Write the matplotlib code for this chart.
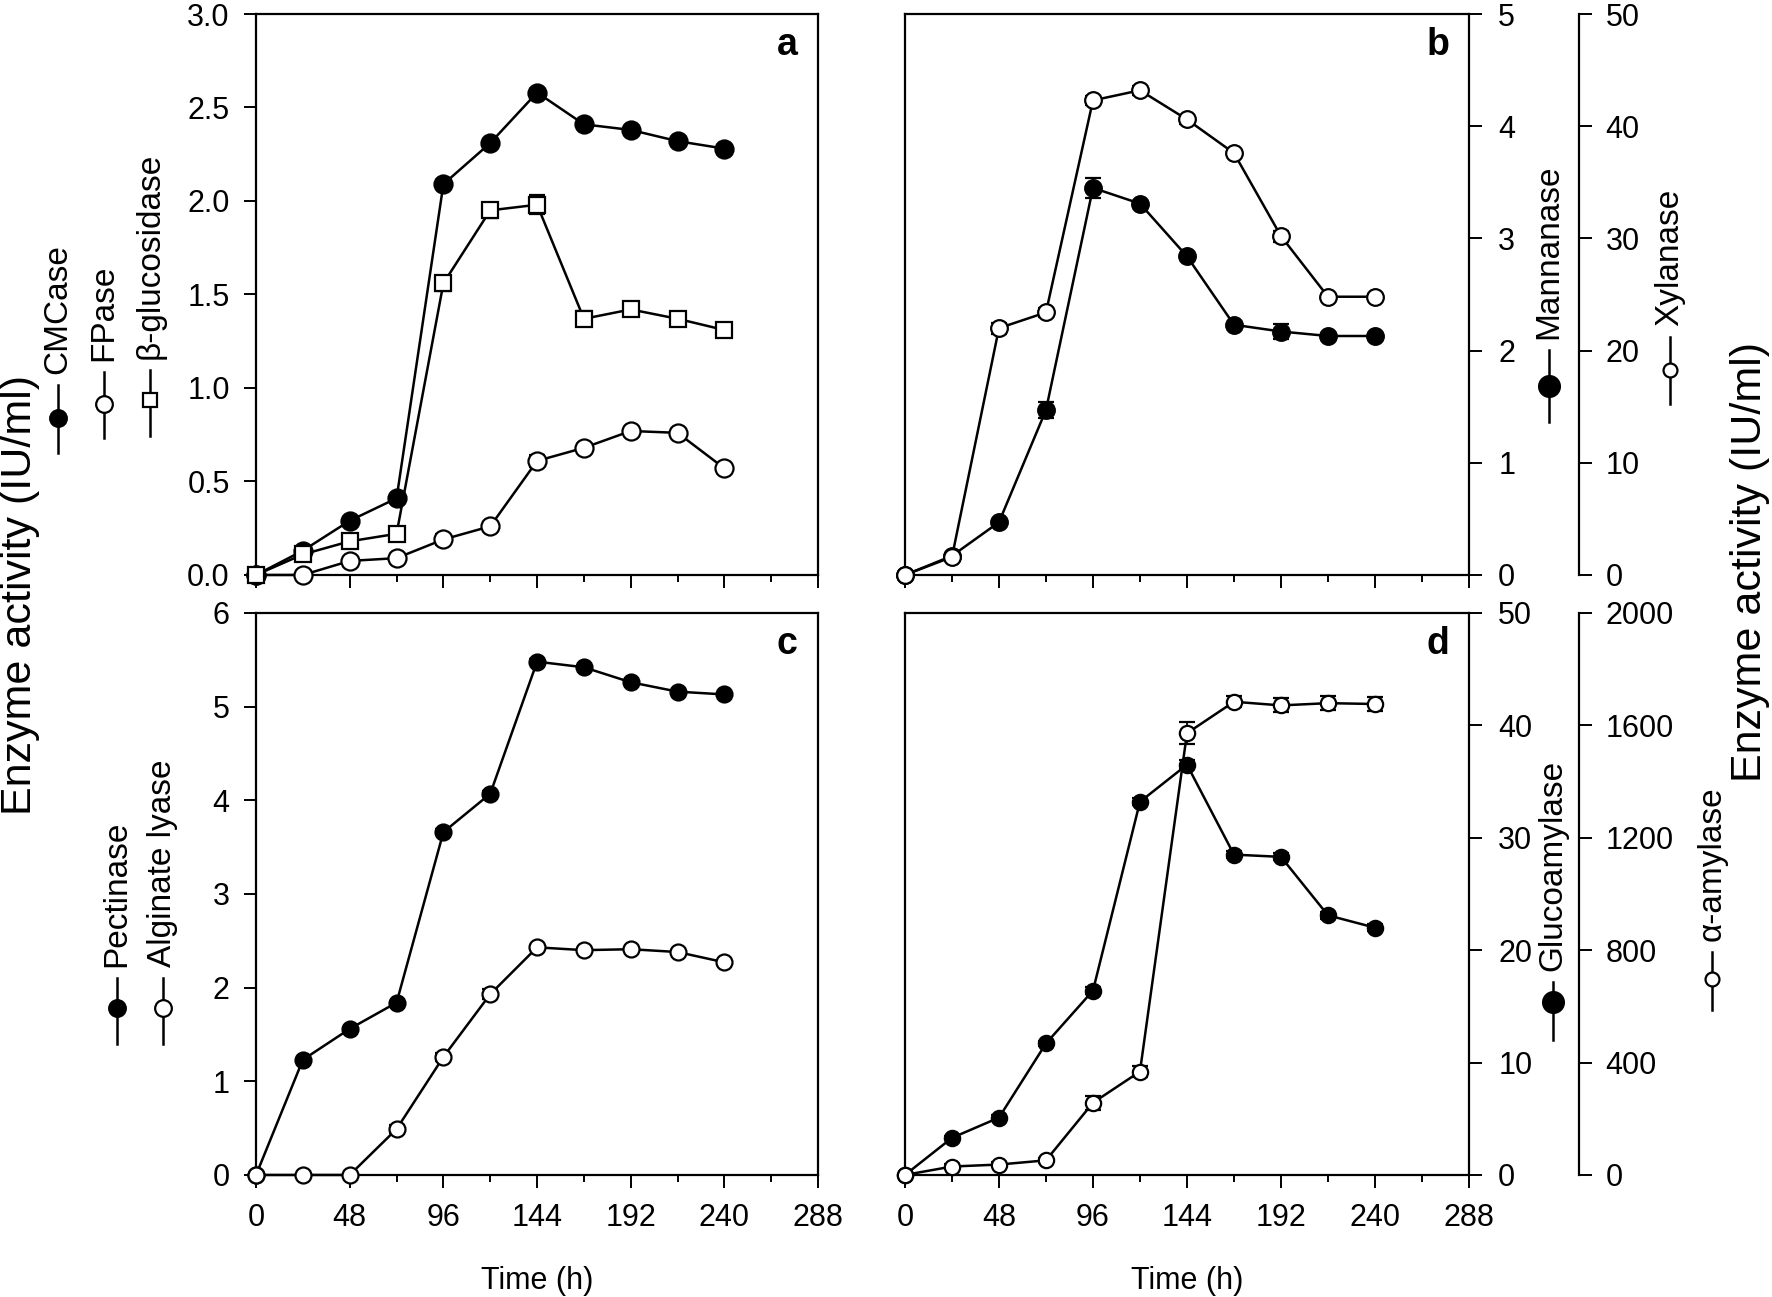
import matplotlib
matplotlib.use("Agg")
import matplotlib.pyplot as plt
from matplotlib.lines import Line2D
from matplotlib.ticker import MultipleLocator, FormatStrFormatter

plt.rcParams['font.family'] = ['Liberation Sans', 'DejaVu Sans']

W, H = 1772, 1297

time_h = [0, 24, 48, 72, 96, 120, 144, 168, 192, 216, 240]

# a: cellulases (IU/ml)
cmcase = [0, 0.13, 0.29, 0.41, 2.09, 2.31, 2.58, 2.41, 2.38, 2.32, 2.28]
cmcase_err = [0, 0.01, 0.01, 0.02, 0.02, 0.01, 0.02, 0.01, 0.01, 0.01, 0.02]
fpase = [0, 0.0, 0.075, 0.09, 0.19, 0.26, 0.61, 0.68, 0.77, 0.76, 0.57]
fpase_err = [0, 0.01, 0.01, 0.01, 0.03, 0.02, 0.03, 0.01, 0.01, 0.02, 0.02]
bgluc = [0, 0.11, 0.18, 0.22, 1.56, 1.95, 1.98, 1.37, 1.42, 1.37, 1.31]
bgluc_err = [0, 0.01, 0.01, 0.01, 0.04, 0.04, 0.05, 0.04, 0.03, 0.02, 0.03]

# b: hemicellulases
mannanase = [0, 0.17, 0.47, 1.47, 3.45, 3.31, 2.84, 2.23, 2.17, 2.13, 2.13]
mannanase_err = [0, 0.01, 0.02, 0.07, 0.09, 0.02, 0.02, 0.01, 0.07, 0.02, 0.02]
xylanase = [0, 1.6, 22.0, 23.4, 42.3, 43.2, 40.6, 37.6, 30.2, 24.8, 24.8]
xylanase_err = [0, 0.3, 0.5, 0.4, 0.4, 0.4, 0.4, 0.3, 0.5, 0.2, 0.2]

# c
pectinase = [0, 1.23, 1.56, 1.84, 3.66, 4.07, 5.48, 5.42, 5.26, 5.16, 5.13]
pectinase_err = [0, 0.02, 0.02, 0.02, 0.03, 0.03, 0.03, 0.02, 0.02, 0.02, 0.02]
alginate = [0, 0, 0, 0.49, 1.26, 1.93, 2.43, 2.40, 2.41, 2.38, 2.27]
alginate_err = [0, 0, 0, 0.04, 0.04, 0.05, 0.03, 0.02, 0.02, 0.02, 0.03]

# d: amylases
glucoamylase = [0, 3.3, 5.1, 11.7, 16.4, 33.2, 36.5, 28.5, 28.3, 23.1, 22.0]
glucoamylase_err = [0, 0.2, 0.2, 0.2, 0.3, 0.3, 0.4, 0.3, 0.3, 0.3, 0.3]
amylase = [0, 30, 37, 52, 257, 368, 1572, 1684, 1671, 1679, 1676]
amylase_err = [0, 8, 8, 10, 25, 20, 40, 20, 25, 25, 25]

LW = 1.8
TICK_FS = 22


def series(ax, y, err, marker, face, ms):
    eb = ax.errorbar(time_h, y, yerr=err, color='k', lw=LW, marker=marker, ms=ms,
                     mfc=face, mec='k', mew=1.6, capsize=6, capthick=1.3,
                     elinewidth=1.3, zorder=3)
    for art in eb.get_children():
        art.set_clip_on(False)


def frame(ax, ymax, ystep, fmt, bottom_labels):
    ax.set_xlim(0, 288)
    ax.set_ylim(0, ymax)
    ax.xaxis.set_major_locator(MultipleLocator(48))
    ax.xaxis.set_minor_locator(MultipleLocator(24))
    ax.yaxis.set_major_locator(MultipleLocator(ystep))
    ax.yaxis.set_major_formatter(FormatStrFormatter(fmt))
    ax.tick_params(which='major', direction='out', length=9, width=1.4, labelsize=TICK_FS)
    ax.tick_params(which='minor', direction='out', length=5, width=1.4)
    ax.tick_params(axis='x', which='major', pad=11, labelbottom=bottom_labels)
    ax.tick_params(axis='y', pad=10)
    for s in ax.spines.values():
        s.set_linewidth(1.6)
    if bottom_labels:
        ax.set_xlabel('Time (h)', fontsize=22, labelpad=24)


def outer_axis(ax, ymax, ystep):
    tw = ax.twinx()
    tw.spines['right'].set_position(('axes', 1.195))
    for s in ['top', 'left', 'bottom']:
        tw.spines[s].set_visible(False)
    tw.spines['right'].set_linewidth(1.6)
    tw.set_ylim(0, ymax)
    tw.yaxis.set_major_locator(MultipleLocator(ystep))
    tw.tick_params(direction='out', length=9, width=1.4, labelsize=TICK_FS, pad=10)
    # twinx moves the host ticks to the left, put them back on the right
    ax.yaxis.tick_right()
    ax.tick_params(axis='y', which='major', direction='out', length=9, width=1.4,
                   labelsize=TICK_FS, pad=12)
    return tw


def letter(ax, s):
    ax.text(0.945, 0.945, s, transform=ax.transAxes, fontsize=27,
            fontweight='bold', ha='center', va='center')


def legend_key(x, y_mark, y_top, y_bot, marker, face, ms, label):
    fx = x / W
    fig.add_artist(Line2D([fx, fx], [1 - y_top / H, 1 - y_bot / H], color='k', lw=LW))
    fig.add_artist(Line2D([fx], [1 - y_mark / H], marker=marker, ms=ms, mfc=face,
                          mec='k', mew=1.6, ls='none'))
    fig.text(fx, 1 - (y_top - 11) / H, label, rotation=90, ha='center', va='bottom',
             fontsize=24)


fig = plt.figure(figsize=(W / 100, H / 100), dpi=100)
ax_a = fig.add_axes([0.1445, 0.5567, 0.3172, 0.4325])
ax_b = fig.add_axes([0.5107, 0.5567, 0.3183, 0.4325])
ax_c = fig.add_axes([0.1445, 0.0941, 0.3172, 0.4333])
ax_d = fig.add_axes([0.5107, 0.0941, 0.3183, 0.4333])

# a
frame(ax_a, 3.0, 0.5, '%.1f', False)
series(ax_a, cmcase, cmcase_err, 'o', 'k', 13)
series(ax_a, fpase, fpase_err, 'o', 'w', 13)
series(ax_a, bgluc, bgluc_err, 's', 'w', 11)
letter(ax_a, 'a')

# b
frame(ax_b, 5, 1, '%d', False)
tw_b = outer_axis(ax_b, 50, 10)
series(ax_b, mannanase, mannanase_err, 'o', 'k', 12)
series(tw_b, xylanase, xylanase_err, 'o', 'w', 12)
letter(ax_b, 'b')

# c
frame(ax_c, 6, 1, '%d', True)
series(ax_c, pectinase, pectinase_err, 'o', 'k', 11.5)
series(ax_c, alginate, alginate_err, 'o', 'w', 11.5)
letter(ax_c, 'c')

# d
frame(ax_d, 50, 10, '%d', True)
tw_d = outer_axis(ax_d, 2000, 400)
series(ax_d, glucoamylase, glucoamylase_err, 'o', 'k', 11)
series(tw_d, amylase, amylase_err, 'o', 'w', 11)
letter(ax_d, 'd')

# legends (vertical keys)
legend_key(58, 418, 385, 453, 'o', 'k', 12, 'CMCase')
legend_key(104, 404, 372, 438, 'o', 'w', 12, 'FPase')
legend_key(150, 400, 370, 436, 's', 'w', 10, 'β-glucosidase')
legend_key(1549, 386, 350, 422, 'o', 'k', 15, 'Mannanase')
legend_key(1670, 370, 337, 404, 'o', 'w', 10, 'Xylanase')
legend_key(117, 1008, 978, 1044, 'o', 'k', 12, 'Pectinase')
legend_key(163, 1008, 978, 1044, 'o', 'w', 12, 'Alginate lyase')
legend_key(1553, 1002, 982, 1040, 'o', 'k', 15, 'Glucoamylase')
legend_key(1712, 979, 952, 1010, 'o', 'w', 10, 'α-amylase')

fig.text(20 / W, 1 - 595 / H, 'Enzyme activity (IU/ml)', rotation=90,
         ha='center', va='center', fontsize=31)
fig.text(1750 / W, 1 - 562 / H, 'Enzyme activity (IU/ml)', rotation=90,
         ha='center', va='center', fontsize=31)

fig.savefig('out.png', dpi=100)
